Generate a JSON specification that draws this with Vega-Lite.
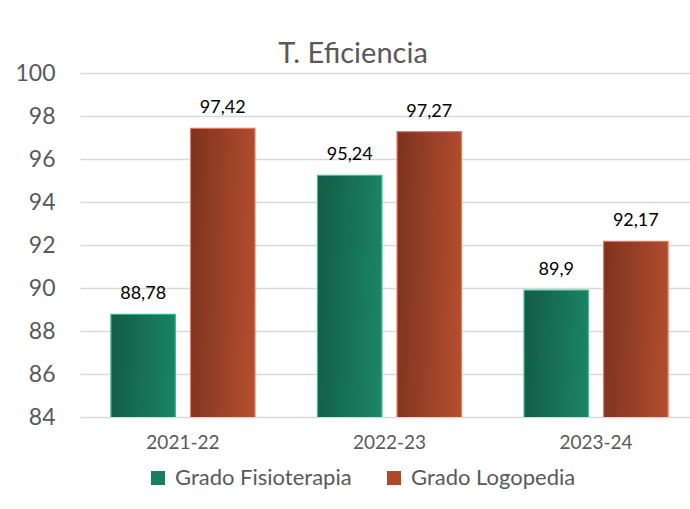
{
  "$schema": "https://vega.github.io/schema/vega-lite/v6.json",
  "width": 610,
  "height": 344,
  "autosize": {"type": "none"},
  "padding": {"left": 80, "top": 73, "right": 0, "bottom": 92},
  "background": "white",
  "config": {
    "locale": {"number": {"decimal": ",", "thousands": ".", "grouping": [3], "currency": ["", " €"]}},
    "view": {"stroke": null},
    "font": "Lato"
  },
  "title": {
    "text": "T. Eficiencia",
    "fontSize": 29,
    "font": "Lato",
    "fontWeight": "normal",
    "color": "#595959",
    "anchor": "middle",
    "frame": "group",
    "dx": -32,
    "offset": -7
  },
  "data": {
    "values": [
      {"year": "2021-22", "series": "Grado Fisioterapia", "value": 88.78},
      {"year": "2021-22", "series": "Grado Logopedia", "value": 97.42},
      {"year": "2022-23", "series": "Grado Fisioterapia", "value": 95.24},
      {"year": "2022-23", "series": "Grado Logopedia", "value": 97.27},
      {"year": "2023-24", "series": "Grado Fisioterapia", "value": 89.9},
      {"year": "2023-24", "series": "Grado Logopedia", "value": 92.17}
    ]
  },
  "encoding": {
    "x": {
      "field": "year",
      "type": "nominal",
      "scale": {"paddingInner": 0.3027, "paddingOuter": 0.128, "align": 0.585},
      "axis": {
        "title": null,
        "labelAngle": 0,
        "labelFontSize": 19,
        "labelColor": "#595959",
        "labelFont": "Lato",
        "labelPadding": 16,
        "domain": false,
        "ticks": false,
        "grid": false
      }
    },
    "xOffset": {
      "field": "series",
      "type": "nominal",
      "scale": {"paddingInner": 0.19, "paddingOuter": 0}
    },
    "y": {
      "field": "value",
      "type": "quantitative",
      "scale": {"domain": [84, 100], "zero": false, "nice": false},
      "axis": {
        "title": null,
        "values": [84, 86, 88, 90, 92, 94, 96, 98, 100],
        "labelFontSize": 23,
        "labelColor": "#595959",
        "labelFont": "Lato",
        "labelPadding": 25,
        "domain": false,
        "ticks": false,
        "grid": true,
        "gridColor": "#d9d9d9",
        "gridWidth": 1.5
      }
    }
  },
  "layer": [
    {
      "mark": {"type": "bar", "clip": true},
      "encoding": {
        "color": {
          "field": "series",
          "type": "nominal",
          "scale": {
            "domain": ["Grado Fisioterapia", "Grado Logopedia"],
            "range": ["#1a7f60", "#ad482b"]
          },
          "legend": {
            "orient": "none",
            "legendX": 67,
            "legendY": 394,
            "direction": "horizontal",
            "title": null,
            "symbolType": "square",
            "symbolSize": 196,
            "symbolStrokeWidth": 0,
            "labelFontSize": 22,
            "labelFont": "Lato",
            "labelColor": "#595959",
            "labelOffset": 6,
            "labelLimit": 400,
            "columnPadding": 31
          }
        }
      }
    },
    {
      "transform": [{"filter": "datum.series === 'Grado Fisioterapia'"}],
      "mark": {
        "type": "bar",
        "clip": true,
        "stroke": "#3fc096",
        "strokeWidth": 1.2,
        "fill": {"gradient": "linear", "x1": 0, "y1": 0, "x2": 1, "y2": 1, "stops": [{"offset": 0, "color": "#135c46"}, {"offset": 1, "color": "#22a981"}]}
      }
    },
    {
      "transform": [{"filter": "datum.series === 'Grado Logopedia'"}],
      "mark": {
        "type": "bar",
        "clip": true,
        "stroke": "#e8785a",
        "strokeWidth": 1.2,
        "fill": {"gradient": "linear", "x1": 0, "y1": 0, "x2": 1, "y2": 1, "stops": [{"offset": 0, "color": "#7c331f"}, {"offset": 1, "color": "#e2643c"}]}
      }
    },
    {
      "mark": {"type": "text", "baseline": "alphabetic", "dy": -15, "fontSize": 18, "font": "Lato", "color": "#000000"},
      "encoding": {
        "text": {"field": "value", "type": "quantitative", "format": ".2~f"}
      }
    }
  ]
}
